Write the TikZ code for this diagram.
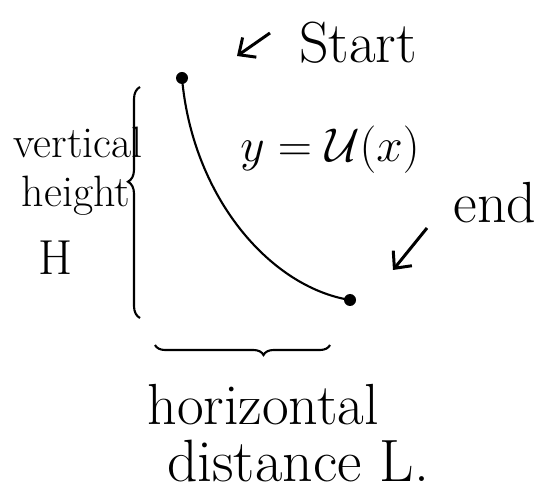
\documentclass[tikz,border=0pt]{standalone}
\usepackage{amsmath}
\usepackage{fix-cm}
\usepackage{tikz}
\usetikzlibrary{arrows.meta,positioning,decorations.pathreplacing}
\tikzset{
  path line/.style = {line width=1.2pt},
  end dot/.style   = {circle, fill=black, inner sep=0pt, minimum size=2.4mm},
  note/.style      = {font=\fontsize{27}{32}\selectfont, inner sep=0pt, anchor=base},
  side note/.style = {font=\fontsize{25}{30}\selectfont, inner sep=0pt, anchor=base},
  big note/.style  = {font=\fontsize{33}{38}\selectfont, inner sep=0pt, anchor=base},
  pointer/.style   = {-{Straight Barb[length=2.6mm,width=4.8mm]}, line width=1.7pt},
  bracket/.style   = {decorate, line width=1.2pt},
}

\begin{document}
\begin{tikzpicture}
  \useasboundingbox (0,0) rectangle (10.94,9.84);

  % the two end points and the curve between them
  \node[end dot] (startdot) at (3.64,8.28) {};
  \node[end dot] (enddot)   at (7.0,3.84) {};
  \draw[path line] (startdot.center) .. controls (3.85,5.9) and (5.4,4.1) .. (enddot.center);
  \node[note] (curvename) at (6.6,6.6) {$y = \mathcal{U}(x)$};

  % start label and its pointer
  \node[big note] (startlabel) at (7.16,8.58) {Start};
  \coordinate (starttail) at (5.4,9.18);
  \coordinate (starttip)  at (4.74,8.72);
  \draw[pointer] (starttail) -- (starttip);

  % end label and its pointer
  \node[big note] (endlabel) at (9.9,5.38) {end};
  \coordinate (endtail) at (8.54,5.28);
  \coordinate (endtip)  at (7.86,4.44);
  \draw[pointer] (endtail) -- (endtip);

  % vertical height
  \coordinate (vbot) at (2.8,3.48);
  \coordinate (vtop) at (2.8,8.1);
  \draw[bracket, decoration={brace,amplitude=2.4mm,aspect=0.59}] (vbot) -- (vtop);
  \node[side note] (vword) at (1.56,6.68) {vertical};
  \node[side note] (hword) at (1.52,5.7) {height};
  \node[side note, font=\fontsize{28}{32}\selectfont] (Hword) at (1.12,4.34) {H};

  % horizontal distance
  \coordinate (hright) at (6.6,2.94);
  \coordinate (hleft)  at (3.1,2.94);
  \draw[bracket, decoration={brace,amplitude=2mm,aspect=0.38}] (hright) -- (hleft);
  \node[big note] (horword)  at (5.26,1.36) {horizontal};
  \node[big note, font=\fontsize{34}{40}\selectfont] (distword) at (5.96,0.22) {distance L.};
\end{tikzpicture}
\end{document}
